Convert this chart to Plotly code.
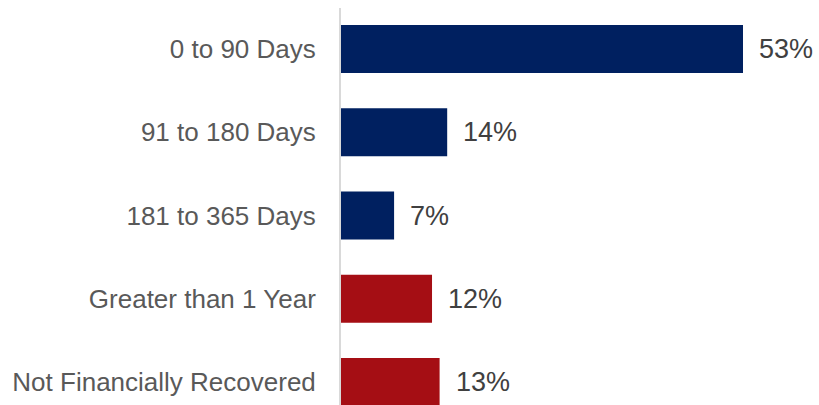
import plotly.graph_objects as go

# Time to financial recovery, share of respondents
categories = ["0 to 90 Days", "91 to 180 Days", "181 to 365 Days",
              "Greater than 1 Year", "Not Financially Recovered"]
shares = [53, 14, 7, 12, 13]
value_labels = ["53%", "14%", "7%", "12%", "13%"]

NAVY = "#002060"
RED = "#A50E14"
bar_colors = [NAVY, NAVY, NAVY, RED, RED]

FONT = "Liberation Sans, Arial, sans-serif"

fig = go.Figure(
    go.Bar(
        x=shares,
        y=categories,
        orientation="h",
        marker=dict(color=bar_colors, line=dict(width=0)),
        width=0.577,
        hoverinfo="skip",
    )
)

# value labels placed just past each bar end
for cat, val, lab in zip(categories, shares, value_labels):
    fig.add_annotation(
        x=val, y=cat, text=lab, showarrow=False,
        xanchor="left", yanchor="middle", xshift=14,
        font=dict(family=FONT, size=27, color="#404040"),
    )

fig.update_layout(
    width=819, height=405,
    margin=dict(l=341, r=0, t=8, b=0),
    paper_bgcolor="white", plot_bgcolor="white",
    showlegend=False,
    xaxis=dict(range=[0, 63.02], visible=False, fixedrange=True),
    yaxis=dict(
        type="category",
        categoryorder="array", categoryarray=categories,
        range=[4.276, -0.4925],
        showline=True, linecolor="#D9D9D9", linewidth=2,
        showgrid=False, zeroline=False, ticks="",
        ticklabelstandoff=18,
        tickfont=dict(family=FONT, size=26, color="#595959"),
        fixedrange=True,
    ),
)

fig.write_html("out.html")
